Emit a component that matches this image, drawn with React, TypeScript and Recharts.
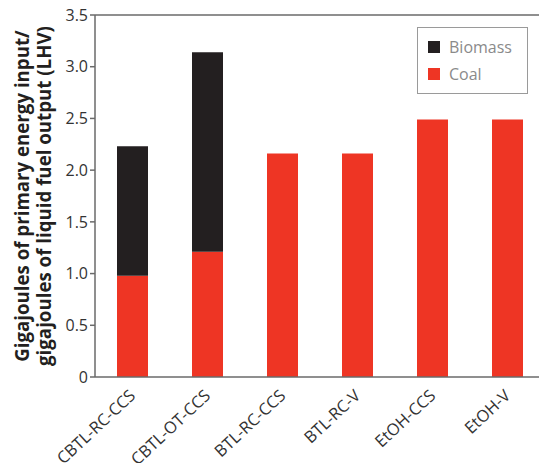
import React from 'react';
import { BarChart, Bar, XAxis, YAxis, ReferenceLine } from 'recharts';

const categories = ['CBTL-RC-CCS', 'CBTL-OT-CCS', 'BTL-RC-CCS', 'BTL-RC-V', 'EtOH-CCS', 'EtOH-V'];
const coalValues = [0.98, 1.21, 2.16, 2.16, 2.49, 2.49];
const biomassValues = [1.25, 1.93, 0, 0, 0, 0];
const yTicks = [0, 0.5, 1, 1.5, 2, 2.5, 3, 3.5];
const yTitleLines = ['Gigajoules of primary energy input/', 'gigajoules of liquid fuel output (LHV)'];
const seriesNames = { biomass: 'Biomass', coal: 'Coal' };

const data = categories.map((name, i) => ({ name, coal: coalValues[i], biomass: biomassValues[i] }));

const RED = '#EE3524';
const BLACK = '#231F20';
const AXIS = '#6a6a6a';
const FONT = '"Open Sans", sans-serif';

const XTick = (props: any) => {
  const { x, y, payload } = props;
  const ax = x + 4;
  const ay = y + 14;
  return (
    <text
      x={ax}
      y={ay}
      transform={`rotate(-43, ${ax}, ${ay})`}
      textAnchor="end"
      fill="#333"
      fontSize={16.5}
      fontFamily={FONT}
    >
      {payload.value}
    </text>
  );
};

const YTitle = (props: any) => {
  const vb = props.viewBox || { x: 0, y: 0, width: 95, height: 362 };
  const cy = vb.y + vb.height / 2;
  const xs = [vb.x + 29, vb.x + 51];
  return (
    <g>
      {yTitleLines.map((t, i) => (
        <text
          key={i}
          x={xs[i]}
          y={cy}
          transform={`rotate(-90, ${xs[i]}, ${cy})`}
          textAnchor="middle"
          fill="#231F20"
          fontSize={18.7}
          fontWeight={700}
          fontFamily={FONT}
        >
          {t}
        </text>
      ))}
    </g>
  );
};

const LegendBox = () => {
  const items = [
    { label: seriesNames.biomass, color: BLACK },
    { label: seriesNames.coal, color: RED },
  ];
  return (
    <div
      style={{
        position: 'absolute',
        left: 417,
        top: 27,
        width: 109,
        height: 60,
        border: '1px solid #9a9a9a',
        fontFamily: FONT,
        paddingTop: 5,
        background: '#fff',
      }}
    >
      {items.map((it) => (
        <div key={it.label} style={{ display: 'flex', alignItems: 'center', height: 27, paddingLeft: 10 }}>
          <span style={{ display: 'inline-block', width: 12, height: 12, background: it.color, marginRight: 9 }} />
          <span style={{ color: '#8a8a8a', fontSize: 16 }}>{it.label}</span>
        </div>
      ))}
    </div>
  );
};

export default function App() {
  return (
    <div style={{ position: 'absolute', left: 0, top: 0, width: 539, height: 463, overflow: 'hidden', background: '#fff' }}>
      <BarChart
        width={545}
        height={463}
        data={data}
        margin={{ top: 15, right: 0, bottom: 0, left: 0 }}
        barSize={31}
        style={{ overflow: 'visible' }}
      >
        <XAxis
          dataKey="name"
          height={86}
          tickLine={false}
          axisLine={{ stroke: AXIS, strokeWidth: 1.5 }}
          tick={<XTick />}
          tickMargin={0}
          interval={0}
        />
        <YAxis
          width={95}
          domain={[0, 3.5]}
          ticks={yTicks}
          tickFormatter={(v: number) => (v === 0 ? '0' : v.toFixed(1))}
          tick={{ fill: '#333', fontSize: 16, fontFamily: FONT }}
          tickSize={5}
          tickMargin={2}
          tickLine={{ stroke: AXIS, strokeWidth: 1.5 }}
          axisLine={{ stroke: AXIS, strokeWidth: 1.5 }}
          allowDataOverflow
          label={<YTitle />}
        />
        <ReferenceLine y={3.5} stroke={AXIS} strokeWidth={1.5} ifOverflow="visible" />
        <Bar dataKey="coal" stackId="a" fill={RED} name={seriesNames.coal} isAnimationActive={false} />
        <Bar dataKey="biomass" stackId="a" fill={BLACK} name={seriesNames.biomass} isAnimationActive={false} />
      </BarChart>
      <LegendBox />
    </div>
  );
}
